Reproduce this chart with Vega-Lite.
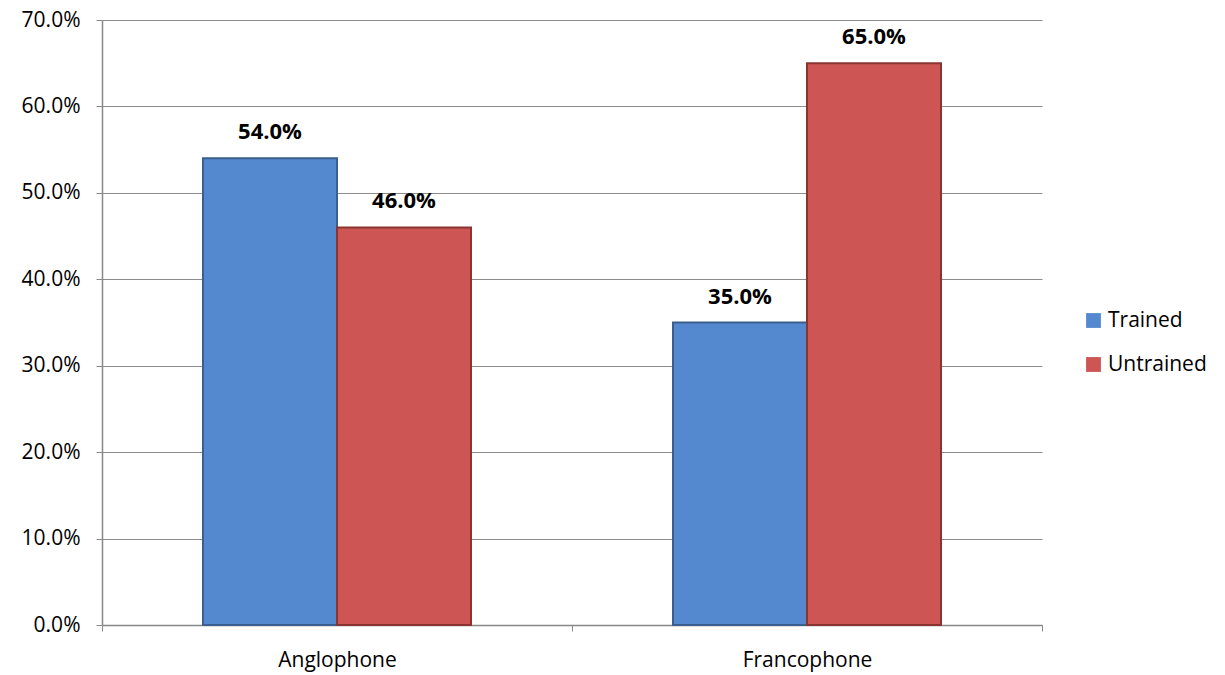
{
  "$schema": "https://vega.github.io/schema/vega-lite/v6.json",
  "autosize": {"type": "none"},
  "width": 940,
  "height": 605,
  "padding": {"left": 102, "top": 20, "right": 183, "bottom": 50},
  "background": "white",
  "config": {"view": {"stroke": null}, "font": "Open Sans"},
  "data": {"values": [
    {"group": "Anglophone", "status": "Trained", "value": 0.54},
    {"group": "Anglophone", "status": "Untrained", "value": 0.46},
    {"group": "Francophone", "status": "Trained", "value": 0.35},
    {"group": "Francophone", "status": "Untrained", "value": 0.65}
  ]},
  "encoding": {
    "x": {"field": "group", "type": "nominal", "title": null,
      "scale": {"paddingInner": 0, "paddingOuter": 0},
      "axis": {"labelAngle": 0, "labelFontSize": 21, "labelColor": "#000", "labelPadding": 18, "tickBand": "extent", "tickColor": "#888", "tickSize": 6, "domainColor": "#888", "domainWidth": 1.5}},
    "xOffset": {"field": "status", "type": "nominal", "scale": {"paddingInner": 0, "paddingOuter": 0.7537}},
    "y": {"field": "value", "type": "quantitative", "title": null,
      "scale": {"domain": [0, 0.7]},
      "axis": {"format": ".1%", "values": [0, 0.1, 0.2, 0.3, 0.4, 0.5, 0.6, 0.7], "labelOverlap": false, "labelFontSize": 21, "labelColor": "#000", "gridColor": "#8c8c8c", "gridWidth": 1, "domainColor": "#888", "domainWidth": 1.5, "tickColor": "#888", "tickSize": 6, "labelPadding": 16}}
  },
  "layer": [
    {"mark": {"type": "bar", "strokeWidth": 2},
      "encoding": {
        "color": {"field": "status", "type": "nominal", "title": null,
          "scale": {"domain": ["Trained", "Untrained"], "range": ["#5589cf", "#cd5654"]},
          "legend": {"orient": "none", "legendX": 981, "legendY": 290, "symbolType": "square", "symbolSize": 220, "labelFontSize": 21, "labelColor": "#000", "rowPadding": 22, "symbolStrokeWidth": 0}},
        "stroke": {"field": "status", "type": "nominal", "scale": {"domain": ["Trained", "Untrained"], "range": ["#3a5f8f", "#8a3431"]}, "legend": null}
      }},
    {"mark": {"type": "text", "dy": -26, "fontWeight": "bold", "fontSize": 22, "color": "#000"},
      "encoding": {"text": {"field": "value", "type": "quantitative", "format": ".1%"}}}
  ]
}
